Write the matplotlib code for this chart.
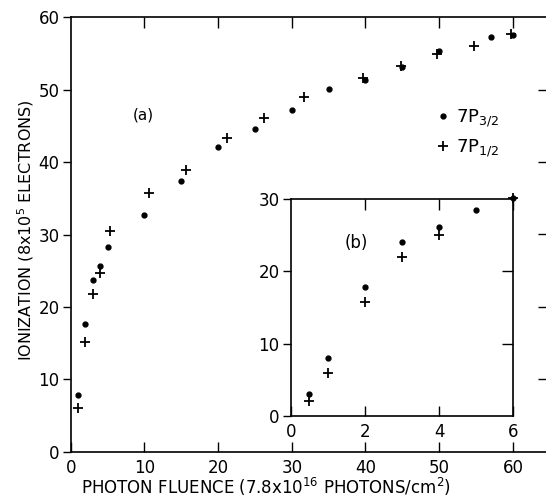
import matplotlib
matplotlib.use("Agg")
import matplotlib.pyplot as plt

# (a) main panel
fluence_32 = [1, 2, 3, 4, 5, 10, 15, 20, 25, 30, 35, 40, 45, 50, 57, 60]
ion_32 = [7.8, 17.6, 23.7, 25.7, 28.3, 32.7, 37.4, 42.1, 44.6, 47.2, 50.1, 51.4, 53.1, 55.3, 57.3, 57.6]
fluence_12 = [1, 2, 3, 4, 5.4, 10.6, 15.6, 21.2, 26.2, 31.7, 39.6, 44.8, 49.7, 54.7, 59.8]
ion_12 = [6.0, 15.2, 21.8, 24.7, 30.5, 35.7, 38.9, 43.3, 46.1, 49.0, 51.6, 53.3, 54.9, 56.1, 57.7]

# (b) inset, low fluence
inset_x_32 = [0.5, 1, 2, 3, 4, 5, 6]
inset_y_32 = [3.0, 8.0, 17.9, 24.0, 26.1, 28.5, 30.1]
inset_x_12 = [0.5, 1, 2, 3, 4, 6]
inset_y_12 = [2.1, 6.0, 15.7, 22.0, 25.0, 30.1]

main_xticks = [0, 10, 20, 30, 40, 50, 60]
main_yticks = [0, 10, 20, 30, 40, 50, 60]
inset_xticks = [0, 2, 4, 6]
inset_yticks = [0, 10, 20, 30]

plt.rcParams["font.family"] = ["DejaVu Sans"]
plt.rcParams["font.size"] = 12

fig = plt.figure(figsize=(5.46, 4.97), dpi=100)
W, H = 546.0, 497.0


def style_axes(ax, xt, yt):
    for s in ax.spines.values():
        s.set_linewidth(1.2)
    ax.set_xticks(xt)
    ax.set_yticks(yt)
    ax.tick_params(axis="x", which="both", direction="in", length=7, width=1.0,
                   top=False, pad=5)
    ax.tick_params(axis="y", which="both", direction="out", length=6, width=1.0,
                   right=False, pad=2)
    # inward ticks on the top and right spines, no labels
    sec_x = ax.secondary_xaxis("top")
    sec_x.set_xticks([t for t in xt if t != 0])
    sec_x.tick_params(direction="in", length=8, width=1.0, labeltop=False)
    sec_x.spines["top"].set_visible(False)
    sec_y = ax.secondary_yaxis("right")
    sec_y.set_yticks([t for t in yt if t not in (0, yt[-1])])
    sec_y.tick_params(direction="in", length=8, width=1.0, labelright=False)
    sec_y.spines["right"].set_visible(False)


# main axes (right spine sits just past the image edge, as in the scan)
ax = fig.add_axes([70.7 / W, (H - 451.7) / H, (549 - 70.7) / W, (451.7 - 17.3) / H])
ax.plot(fluence_32, ion_32, "o", color="black", markersize=3.5, label="7P$_{3/2}$")
ax.plot(fluence_12, ion_12, "+", color="black", markersize=7, mew=1.3, label="7P$_{1/2}$")
ax.set_xlim(0, (549 - 70.7) / 7.37)
ax.set_ylim(0, 60)
style_axes(ax, main_xticks, main_yticks)
ax.set_xlabel("PHOTON FLUENCE (7.8x10$^{16}$ PHOTONS/cm$^2$)", fontsize=12)
ax.xaxis.set_label_coords((266 - 70.7) / (549 - 70.7), -0.055)
ax.set_ylabel("IONIZATION (8x10$^5$ ELECTRONS)", fontsize=11.5)
ax.yaxis.set_label_coords(-0.072, 0.51)
ax.text(9.9, 46.5, "(a)", fontsize=11, ha="center", va="center")
ax.legend(loc="upper left", bbox_to_anchor=(0.753, 0.81), frameon=False,
          handlelength=0.6, handletextpad=0.4, labelspacing=0.5, fontsize=13,
          borderaxespad=0)

# inset (b)
axi = fig.add_axes([290.7 / W, (H - 416) / H, (513.3 - 290.7) / W, (416 - 199) / H])
axi.plot(inset_x_32, inset_y_32, "o", color="black", markersize=3.5, clip_on=False)
axi.plot(inset_x_12, inset_y_12, "+", color="black", markersize=7, mew=1.3, clip_on=False)
axi.set_xlim(0, 6)
axi.set_ylim(0, 30)
style_axes(axi, inset_xticks, inset_yticks)
axi.text(1.76, 23.9, "(b)", fontsize=12, ha="center", va="center")

fig.savefig("out.png", dpi=100)
